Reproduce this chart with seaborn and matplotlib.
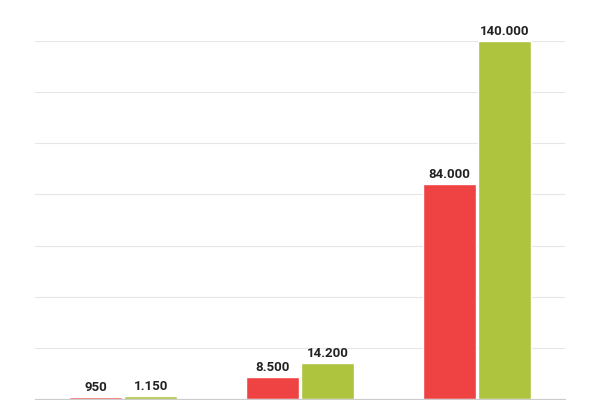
import matplotlib.pyplot as plt
import pandas as pd
import seaborn as sns

groups = ["A", "B", "C"]
series_a = [950, 8500, 84000]
series_b = [1150, 14200, 140000]
series_names = ["S1", "S2"]
colors = ["#ef4242", "#aec43f"]

df = pd.DataFrame({
    "group": groups * 2,
    "value": series_a + series_b,
    "series": [series_names[0]] * 3 + [series_names[1]] * 3,
})

sns.set_style("white")
plt.rcParams["font.family"] = ["Roboto", "DejaVu Sans"]

fig = plt.figure(figsize=(6, 4), dpi=100)
ax = fig.add_axes([0.058, 0.0025, 0.884, 0.895])
sns.barplot(data=df, x="group", y="value", hue="series", palette=colors,
            width=0.62, gap=0.03, ax=ax, legend=False, saturation=1)

ax.set_ylim(0, 140000)
ax.set_xlim(-0.5, 2.5)
ax.set_yticks(range(0, 140001, 20000))
ax.yaxis.grid(True, color="#e6e6e6", linewidth=0.8)
ax.set_axisbelow(True)
ax.set_xticks([])
ax.set_yticklabels([])
ax.tick_params(left=False)
ax.set_xlabel("")
ax.set_ylabel("")
for s in ["top", "right", "left"]:
    ax.spines[s].set_visible(False)
ax.spines["bottom"].set_color("#cccccc")

for cont in ax.containers:
    labels = [f"{int(v):,}".replace(",", ".") for v in cont.datavalues]
    ax.bar_label(cont, labels=labels, padding=2, fontsize=9.5,
                 fontweight="bold", color="#222222")

fig.savefig("out.png", dpi=100)
